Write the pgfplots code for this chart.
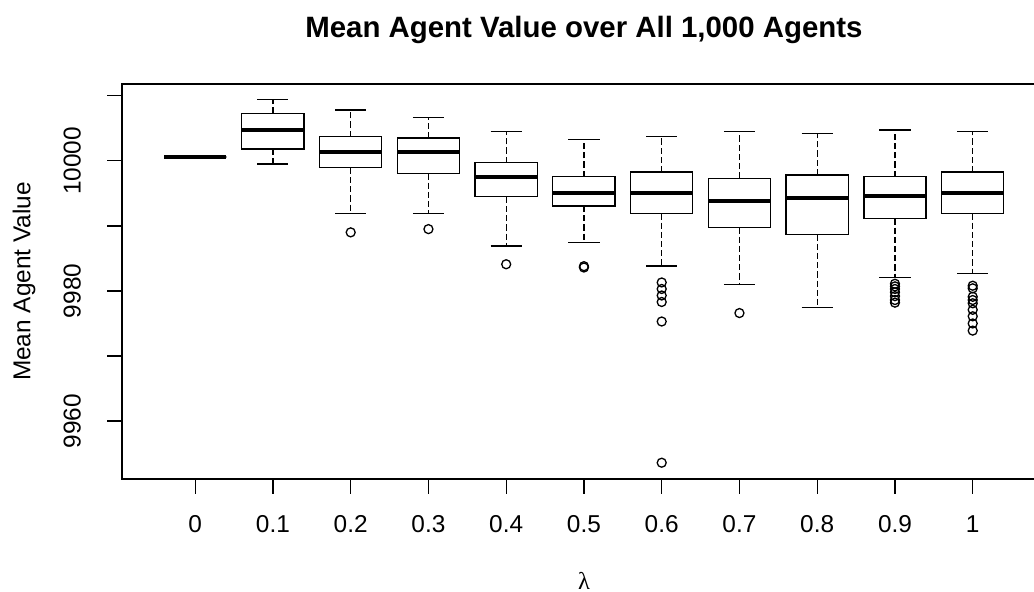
\documentclass[border=0pt]{standalone}
\usepackage{fontspec}
\setmainfont{Liberation Sans}
\newfontfamily\seriffont{Liberation Serif}
\usepackage{pgfplots}
\pgfplotsset{compat=1.18}
\usepgfplotslibrary{statistics}
% values are given as (Mean Agent Value - 10000)
\pgfplotsset{
  rbox/.style={
    black, line width=0.65pt,
    mark=o, mark size=2.25pt, mark options={solid, line width=0.65pt},
    boxplot/draw direction=y,
    boxplot/box extend=0.8,
    boxplot/draw/box/.code={%
      \draw[black,line width=0.65pt] (boxplot box cs:\pgfplotsboxplotvalue{lower quartile},0) rectangle (boxplot box cs:\pgfplotsboxplotvalue{upper quartile},1);},
    boxplot/draw/median/.code={%
      \draw[black,line width=2pt] (boxplot box cs:\pgfplotsboxplotvalue{median},0) -- (boxplot box cs:\pgfplotsboxplotvalue{median},1);},
    boxplot/draw/lower whisker/.code={%
      \draw[black,line width=0.65pt,dash pattern=on 3.1pt off 1.5pt] (boxplot box cs:\pgfplotsboxplotvalue{lower quartile},0.5) -- (boxplot box cs:\pgfplotsboxplotvalue{lower whisker},0.5);
      \draw[black,line width=0.65pt] (boxplot box cs:\pgfplotsboxplotvalue{lower whisker},0.25) -- (boxplot box cs:\pgfplotsboxplotvalue{lower whisker},0.75);},
    boxplot/draw/upper whisker/.code={%
      \draw[black,line width=0.65pt,dash pattern=on 3.1pt off 1.5pt] (boxplot box cs:\pgfplotsboxplotvalue{upper quartile},0.5) -- (boxplot box cs:\pgfplotsboxplotvalue{upper whisker},0.5);
      \draw[black,line width=0.65pt] (boxplot box cs:\pgfplotsboxplotvalue{upper whisker},0.25) -- (boxplot box cs:\pgfplotsboxplotvalue{upper whisker},0.75);},
  }
}
\begin{document}
\fontsize{12.2pt}{14pt}\selectfont
\begin{tikzpicture}
\begin{axis}[
  at={(0,0)}, anchor=south west,
  scale only axis,
  width=461.85pt, height=197.5pt,
  xmin=0.06, xmax=11.94,
  ymin=-48.9, ymax=11.8,
  axis line style={black, line width=0.65pt},
  tick style={black, line width=0.65pt},
  tick align=outside,
  major tick length=7.3pt,
  xtick pos=left, ytick pos=left,
  xtick={1,2,3,4,5,6,7,8,9,10,11},
  xticklabels={0,0.1,0.2,0.3,0.4,0.5,0.6,0.7,0.8,0.9,1},
  ytick={-40,-30,-20,-10,0,10},
  yticklabels={9960,,9980,,10000,},
  tick label style={font=\fontsize{12.2pt}{14pt}\selectfont},
  xticklabel style={anchor=base, yshift=-19.5pt},
  yticklabel style={xshift=-13.4pt, rotate=90, anchor=base},
  title={Mean Agent Value over All 1,000 Agents},
  every axis title/.style={at={(axis description cs:0.5,1.118)}, anchor=base, font=\bfseries\fontsize{14.7pt}{17pt}\selectfont},
  xlabel={\seriffont λ},
  every axis x label/.style={at={(axis description cs:0.5,-0.281)}, anchor=base, font=\fontsize{12.2pt}{14pt}\selectfont},
  ylabel={Mean Agent Value},
  every axis y label/.style={at={(axis description cs:-0.0992,0.5)}, rotate=90, anchor=base, font=\fontsize{12.2pt}{14pt}\selectfont},
  clip=false,
]
\addplot[rbox, boxplot prepared={draw position=1, lower whisker=0.6, lower quartile=0.6, median=0.6, upper quartile=0.6, upper whisker=0.6}] coordinates {};
\addplot[rbox, boxplot prepared={draw position=2, lower whisker=-0.51, lower quartile=1.80, median=4.72, upper quartile=7.28, upper whisker=9.43}] coordinates {};
\addplot[rbox, boxplot prepared={draw position=3, lower whisker=-8.08, lower quartile=-1.08, median=1.38, upper quartile=3.69, upper whisker=7.79}] coordinates {(0,-11.0)};
\addplot[rbox, boxplot prepared={draw position=4, lower whisker=-8.08, lower quartile=-1.94, median=1.38, upper quartile=3.49, upper whisker=6.6}] coordinates {(0,-10.5)};
\addplot[rbox, boxplot prepared={draw position=5, lower whisker=-13.10, lower quartile=-5.53, median=-2.46, upper quartile=-0.31, upper whisker=4.52}] coordinates {(0,-15.9)};
\addplot[rbox, boxplot prepared={draw position=6, lower whisker=-12.60, lower quartile=-6.96, median=-5.01, upper quartile=-2.46, upper whisker=3.29}] coordinates {(0,-16.2) (0,-16.4)};
\addplot[rbox, boxplot prepared={draw position=7, lower whisker=-16.18, lower quartile=-8.08, median=-5.01, upper quartile=-1.74, upper whisker=3.75}] coordinates {(0,-18.7) (0,-19.7) (0,-20.7) (0,-21.7) (0,-24.7) (0,-46.4)};
\addplot[rbox, boxplot prepared={draw position=8, lower whisker=-18.99, lower quartile=-10.23, median=-6.19, upper quartile=-2.70, upper whisker=4.52}] coordinates {(0,-23.4)};
\addplot[rbox, boxplot prepared={draw position=9, lower whisker=-22.58, lower quartile=-11.34, median=-5.68, upper quartile=-2.20, upper whisker=4.21}] coordinates {};
\addplot[rbox, boxplot prepared={draw position=10, lower whisker=-17.97, lower quartile=-8.85, median=-5.42, upper quartile=-2.46, upper whisker=4.72}] coordinates {(0,-18.9) (0,-19.3) (0,-19.7) (0,-20.2) (0,-20.8) (0,-21.4) (0,-21.8)};
\addplot[rbox, boxplot prepared={draw position=11, lower whisker=-17.30, lower quartile=-8.08, median=-5.01, upper quartile=-1.74, upper whisker=4.45}] coordinates {(0,-19.2) (0,-19.6) (0,-20.9) (0,-21.4) (0,-21.9) (0,-22.9) (0,-23.9) (0,-25.0) (0,-26.1)};
\end{axis}
\pgfresetboundingbox
\useasboundingbox (-61.05pt,-56.5pt) rectangle (455.95pt,239.5pt);
\end{tikzpicture}
\end{document}
